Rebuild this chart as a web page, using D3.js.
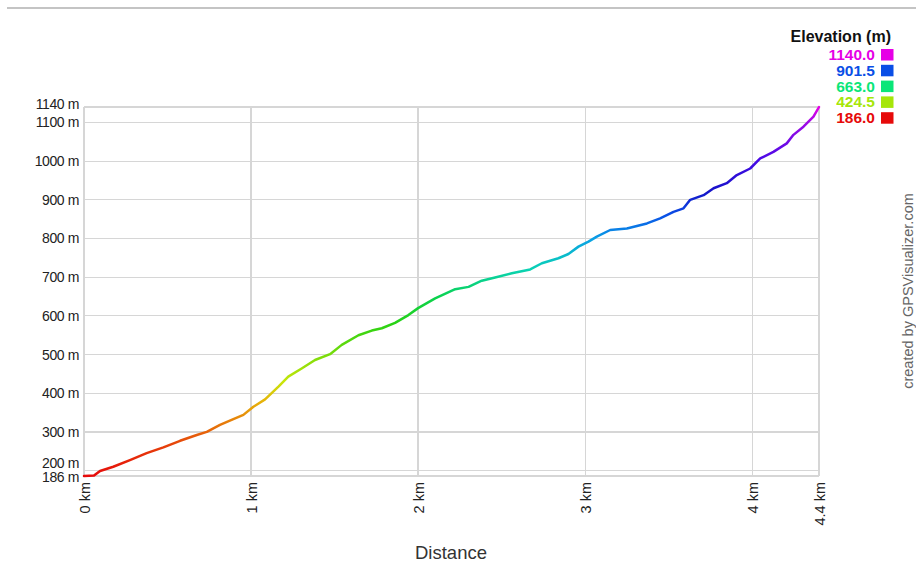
<!DOCTYPE html>
<html><head><meta charset="utf-8">
<script src="https://cdn.jsdelivr.net/npm/d3@7"></script>
<style>
html,body{margin:0;padding:0;background:#fff;}
svg{display:block;font-family:"Liberation Sans",Arial,sans-serif;}
</style></head>
<body>
<svg id="chart" width="916" height="574"></svg>
<script>
// ---- data ----
const distanceKm = [0,0.06,0.096,0.175,0.275,0.375,0.475,0.575,0.675,0.735,0.814,0.894,0.954,1.014,1.084,1.164,1.223,1.303,1.383,1.473,1.543,1.643,1.723,1.783,1.862,1.942,2.0,2.102,2.222,2.302,2.381,2.461,2.561,2.671,2.741,2.84,2.9,2.96,3.02,3.07,3.15,3.25,3.37,3.449,3.529,3.589,3.629,3.709,3.769,3.848,3.908,3.988,4.048,4.127,4.207,4.247,4.307,4.367,4.4];
const elevationM = [186,187,199,210,227,245,260,277,292,300,318,333,344,365,384,417,443,464,486,501,525,550,562,568,582,602,620,645,669,675,691,699,710,720,736,749,760,779,792,805,822,826,839,852,869,878,900,912,930,943,964,981,1007,1024,1046,1068,1089,1115,1140];
const xTickValues = [0,1,2,3,4,4.4];
const xTickLabels = ["0 km","1 km","2 km","3 km","4 km","4.4 km"];
const yTickValues = [186,200,300,400,500,600,700,800,900,1000,1100,1140];
const yTickLabels = ["186 m","200 m","300 m","400 m","500 m","600 m","700 m","800 m","900 m","1000 m","1100 m","1140 m"];
const legendValues = [1140.0, 901.5, 663.0, 424.5, 186.0];
const legendLabels = ["1140.0","901.5","663.0","424.5","186.0"];

// ---- styles ----
const legendColors = ["#e600e6","#0a4ee6","#0ae678","#a6e60a","#e60a0a"];
const lineStops = [[186,"#e60a0a"],[260,"#e63c0a"],[330,"#e6820a"],[380,"#e6b40a"],[430,"#c8e60a"],[500,"#78dc0a"],[580,"#28d214"],[650,"#0ad250"],[720,"#0ad2b4"],[800,"#0aa0e6"],[860,"#0a50e6"],[920,"#1414c8"],[1000,"#460ae6"],[1100,"#a00ae6"],[1140,"#e600e6"]];
const labelShift = {200:-8, 1140:-3, 186:1};

const svg = d3.select("#chart");
const x = d3.scaleLinear().domain([0,4.4]).range([84,819]);
const y = d3.scaleLinear().domain([186,1140]).range([476,107]);

// top decorative line
svg.append("line").attr("x1",7).attr("x2",916).attr("y1",8).attr("y2",8)
  .attr("stroke","#c4c4c4").attr("stroke-width",2);

// grid
const grid = svg.append("g").attr("stroke","#d6d6d6").attr("stroke-width",1.2).attr("shape-rendering","crispEdges");
yTickValues.forEach(v=>{
  grid.append("line").attr("x1",x(0)).attr("x2",x(4.4)).attr("y1",y(v)).attr("y2",y(v));
});
xTickValues.forEach(v=>{
  grid.append("line").attr("x1",x(v)).attr("x2",x(v)).attr("y1",y(1140)).attr("y2",y(186));
});

// y axis labels via d3 axis
const yAxis = d3.axisLeft(y).tickValues(yTickValues)
  .tickFormat((d,i)=>yTickLabels[i]).tickSize(0).tickPadding(5);
const gy = svg.append("g").attr("transform",`translate(${x(0)},0)`).call(yAxis);
gy.select(".domain").remove();
gy.selectAll("text").attr("font-size","14px").attr("fill","#222")
  .attr("font-family","'Liberation Sans',Arial,sans-serif").attr("letter-spacing","-0.4")
  .attr("y",d=>labelShift[d]||0);

// x axis labels rotated
const xAxis = d3.axisBottom(x).tickValues(xTickValues)
  .tickFormat((d,i)=>xTickLabels[i]).tickSize(0).tickPadding(0);
const gx = svg.append("g").attr("transform",`translate(0,${y(186)})`).call(xAxis);
gx.select(".domain").remove();
gx.selectAll("text")
  .attr("transform","rotate(-90)")
  .attr("text-anchor","end").attr("x",-6).attr("y",0).attr("dy","0.35em")
  .attr("font-size","14.5px").attr("fill","#222")
  .attr("font-family","'Liberation Sans',Arial,sans-serif");

// axis title
svg.append("text").attr("x",451).attr("y",559).attr("text-anchor","middle")
  .attr("font-size","18.5px").attr("fill","#333").text("Distance");

// gradient for line
const defs = svg.append("defs");
const grad = defs.append("linearGradient").attr("id","elevGrad")
  .attr("gradientUnits","userSpaceOnUse")
  .attr("x1",0).attr("x2",0).attr("y1",y(186)).attr("y2",y(1140));
lineStops.forEach(([v,c])=>{
  grad.append("stop").attr("offset",((v-186)/(1140-186))).attr("stop-color",c);
});

const pts = distanceKm.map((d,i)=>[d,elevationM[i]]);
const line = d3.line().x(d=>x(d[0])).y(d=>y(d[1]));
svg.append("path").datum(pts).attr("d",line)
  .attr("fill","none").attr("stroke","url(#elevGrad)").attr("stroke-width",2.5)
  .attr("stroke-linejoin","round").attr("stroke-linecap","round");

// legend
svg.append("text").attr("x",891).attr("y",42).attr("text-anchor","end")
  .attr("font-size","16px").attr("font-weight","bold").attr("fill","#111").text("Elevation (m)");
const lg = svg.append("g");
legendValues.forEach((v,i)=>{
  const cy = 54.5 + i*15.8;
  lg.append("rect").attr("x",881).attr("y",cy-5.5).attr("width",12.5).attr("height",11.5)
    .attr("fill",legendColors[i]);
  lg.append("text").attr("x",875).attr("y",cy).attr("dy","0.36em").attr("text-anchor","end")
    .attr("font-size","15.5px").attr("font-weight","bold").attr("fill",legendColors[i])
    .text(legendLabels[i]);
});

// credit
svg.append("text").attr("transform","translate(913,291) rotate(-90)")
  .attr("text-anchor","middle").attr("font-size","14.5px").attr("fill","#666")
  .text("created by GPSVisualizer.com");
</script>
</body></html>
